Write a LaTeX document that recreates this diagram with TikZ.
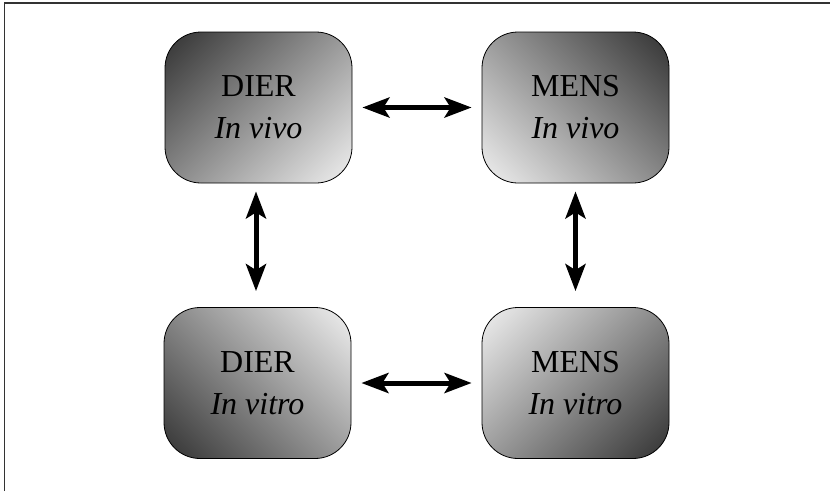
\documentclass[tikz,border=0pt]{standalone}
\usepackage{fontspec}
\setmainfont{Liberation Serif}
\usetikzlibrary{arrows.meta}

\pgfdeclarehorizontalshading{cornerfade}{100bp}{color(0bp)=(black!80); color(15bp)=(black!80);
  color(85bp)=(black!6); color(100bp)=(black!6)}

\begin{document}
\begin{tikzpicture}[x=1pt,y=-1pt,
  model/.style={draw=black, line width=0.8pt, rounded corners=36pt,
    minimum width=187pt, minimum height=151pt, align=center,
    font=\fontsize{32}{42}\selectfont, shading=cornerfade},
  link/.style={{Stealth[length=27pt,width=20pt,inset=6pt]}-{Stealth[length=27pt,width=20pt,inset=6pt]}, line width=5pt}]
\useasboundingbox (0,0) rectangle (830,491);
\draw[line width=1.5pt, black!80] (4.5,491) -- (4.5,3) -- (830,3);

\node[model, shading angle=-45] (dierVivo) at (258.5,107.5) {DIER\\\textit{In vivo}};
\node[model, shading angle=-135] (mensVivo) at (575.5,107.5) {MENS\\\textit{In vivo}};
\node[model, shading angle=45] (dierVitro) at (257.5,383) {DIER\\\textit{In vitro}};
\node[model, shading angle=135] (mensVitro) at (575.5,383) {MENS\\\textit{In vitro}};

\draw[link, shorten <=10pt, shorten >=10pt] (dierVivo) -- (mensVivo);
\draw[link, shorten <=10pt, shorten >=10pt] (dierVitro) -- (mensVitro);
\draw[link, shorten <=8pt, shorten >=16pt] (dierVivo.south -| 256,0) -- (dierVitro.north -| 256,0);
\draw[link, shorten <=8pt, shorten >=16pt] (mensVivo) -- (mensVitro);

\end{tikzpicture}
\end{document}
